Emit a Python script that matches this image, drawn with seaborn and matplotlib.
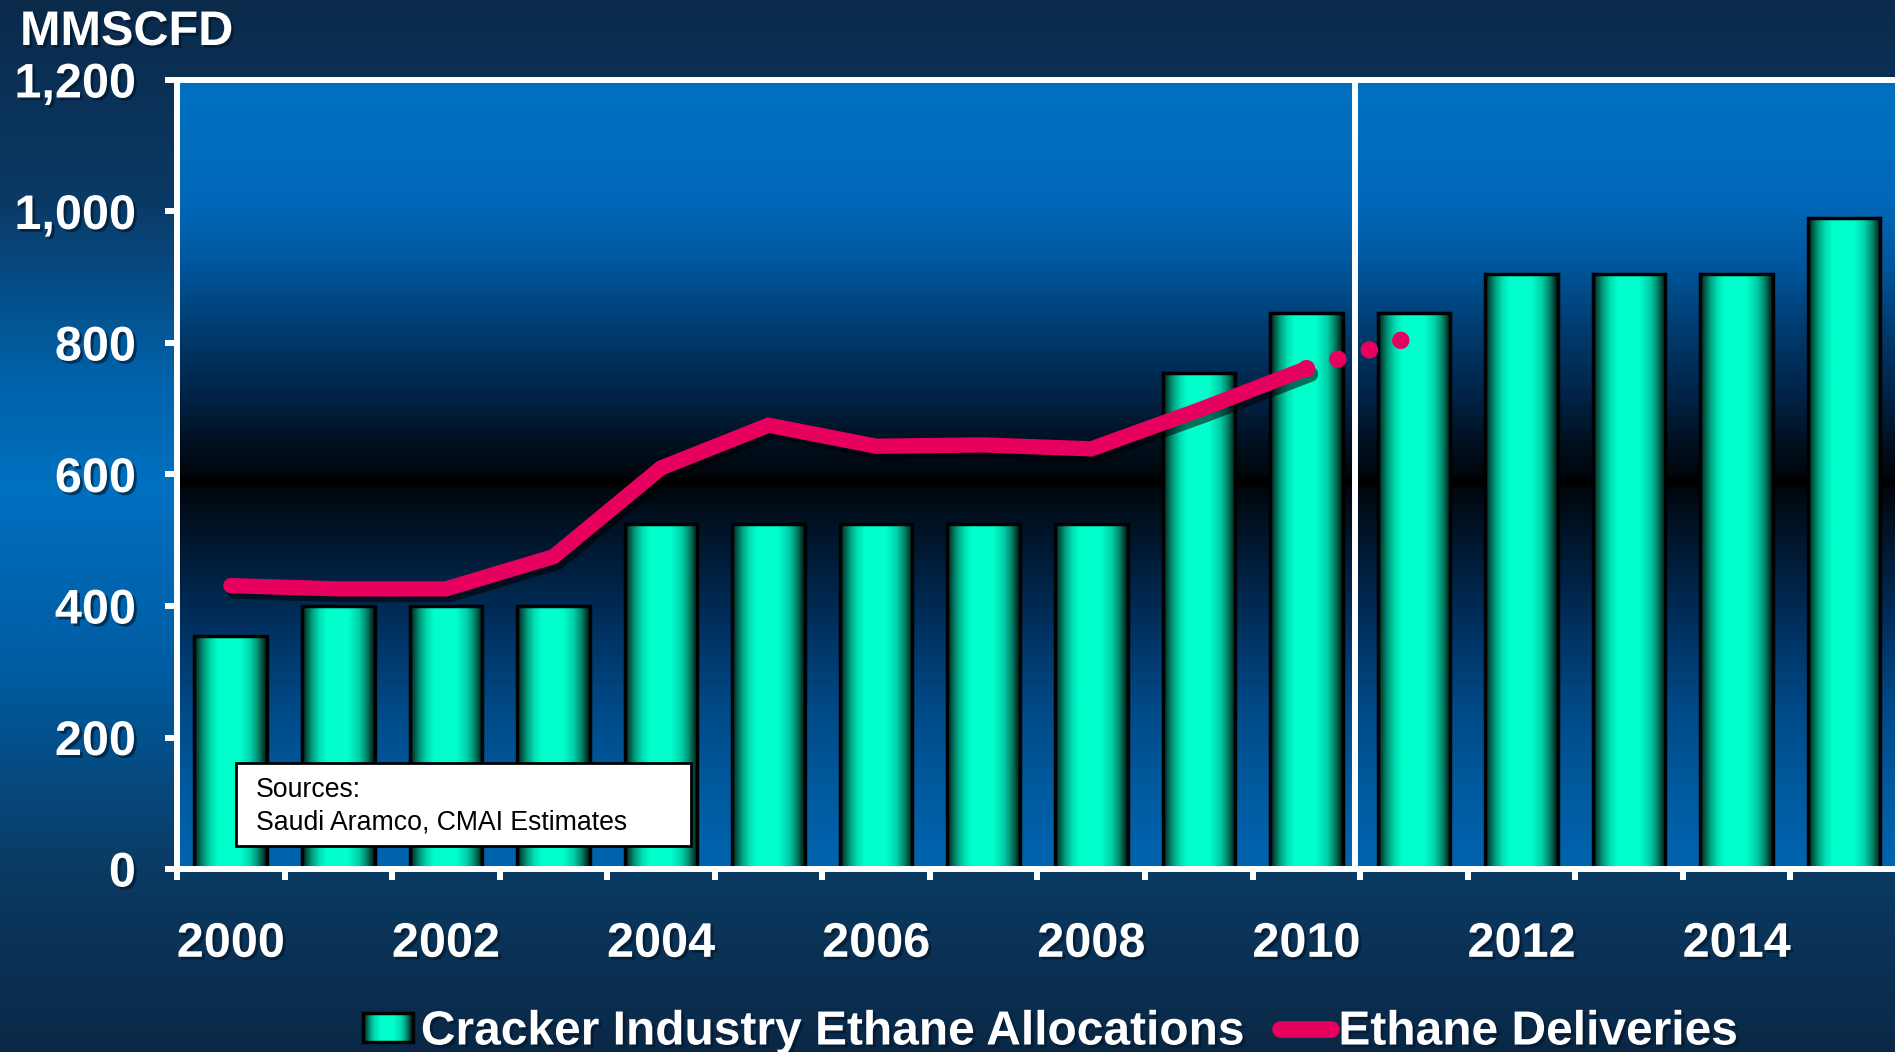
import numpy as np
import pandas as pd
import seaborn as sns
import matplotlib
matplotlib.use("Agg")
import matplotlib.pyplot as plt
import matplotlib.patheffects as pe
from matplotlib.colors import LinearSegmentedColormap
from matplotlib.patches import Rectangle
from matplotlib.lines import Line2D
from matplotlib.legend_handler import HandlerBase

# ---- data -------------------------------------------------------------
years = list(range(2000, 2016))
allocations = [355, 400, 400, 400, 525, 525, 525, 525, 525, 755, 845, 845, 905, 905, 905, 990]

delivery_years = list(range(2000, 2011))
deliveries = [431, 426, 426, 475, 610, 675, 643, 645, 639, 698, 761]

outlook_years = [2010, 2011]
outlook = [761, 810]

year_labels = ["2000", "2002", "2004", "2006", "2008", "2010", "2012", "2014"]
year_label_pos = [2000, 2002, 2004, 2006, 2008, 2010, 2012, 2014]
y_ticks = [0, 200, 400, 600, 800, 1000, 1200]
y_tick_labels = ["0", "200", "400", "600", "800", "1,000", "1,200"]

bar_label = "Cracker Industry Ethane Allocations"
line_label = "Ethane Deliveries"
unit_label = "MMSCFD"
source_note = "Sources:\nSaudi Aramco, CMAI Estimates"

# ---- style ------------------------------------------------------------
sns.set_theme(style="white")
plt.rcParams["font.family"] = ["Liberation Sans", "DejaVu Sans"]

PINK = "#e8005e"
W, H = 1895, 1052

cylinder = LinearSegmentedColormap.from_list("cylinder", [
    (0.00, "#001410"), (0.03, "#003a2e"), (0.14, "#00a080"), (0.24, "#00e0b4"),
    (0.34, "#00ffcc"), (0.63, "#00ffcc"), (0.78, "#00d0aa"), (0.88, "#008a6c"),
    (0.97, "#003028"), (1.00, "#001410")])

# figure backdrop, listed top to bottom
fig_bg = LinearSegmentedColormap.from_list("fig_bg", [
    (0.00, "#0b2a4a"), (0.19, "#0a3a66"), (0.36, "#0062aa"), (0.46, "#0070c0"),
    (0.55, "#0066b2"), (0.65, "#005a9e"), (0.83, "#0b3a62"), (1.00, "#0a2846")])

# plot area backdrop, stops given bottom-up as axes fraction
area_stops = [
    (0.000, "#0064b0"), (0.100, "#005a9e"), (0.200, "#004a88"), (0.300, "#003262"),
    (0.400, "#001a34"), (0.450, "#000f1e"), (0.484, "#00060c"), (0.486, "#000000"),
    (0.495, "#000000"), (0.497, "#00050a"), (0.540, "#001020"), (0.603, "#002448"),
    (0.687, "#003c70"), (0.772, "#0058a0"), (0.850, "#0068b8"), (0.900, "#006cbc"),
    (1.000, "#0070c0")]
area_bg = LinearSegmentedColormap.from_list(
    "area_bg", sorted([(1 - f, c) for f, c in area_stops]))

fig = plt.figure(figsize=(W / 100, H / 100), dpi=100)

bg = fig.add_axes([0, 0, 1, 1], zorder=-10)
bg.imshow(np.linspace(0, 1, 1200)[:, None], cmap=fig_bg, aspect="auto",
          extent=(0, 1, 0, 1), interpolation="bilinear")
bg.set_axis_off()

slot = 107.56
ax_left, ax_top, ax_bottom = 177, 80, 869
ax = fig.add_axes([ax_left / W, 1 - ax_bottom / H, 16 * slot / W, (ax_bottom - ax_top) / H])
ax.patch.set_visible(False)
ax.imshow(np.linspace(0, 1, 1600)[:, None], cmap=area_bg, aspect="auto",
          extent=(0, 1, 0, 1), transform=ax.transAxes, interpolation="bilinear", zorder=0)

# ---- bars -------------------------------------------------------------
df = pd.DataFrame({"year": years, "alloc": allocations})
sns.barplot(data=df, x="year", y="alloc", native_scale=True, width=0.675,
            color="#00e0b4", edgecolor="black", linewidth=2.5, ax=ax, zorder=3)

shade = np.linspace(0, 1, 256)[None, :]
for p in list(ax.patches):
    x0, w, h = p.get_x(), p.get_width(), p.get_height()
    im = ax.imshow(shade, cmap=cylinder, aspect="auto", extent=(x0, x0 + w, 0, h),
                   interpolation="bilinear", zorder=2.5)
    im.set_clip_path(p)
    p.set_facecolor("none")
    p.set_zorder(3)

# ---- delivery line ----------------------------------------------------
shadow = [pe.SimpleLineShadow(offset=(3, -4), shadow_color="black", alpha=0.55), pe.Normal()]
sns.lineplot(x=delivery_years, y=deliveries, color=PINK, lw=11, ax=ax,
             solid_capstyle="round", solid_joinstyle="miter", zorder=6,
             path_effects=shadow, legend=False)
# dotted outlook beyond the last reported year
ax.plot(outlook_years, outlook, color=PINK, lw=12.5, linestyle=(0, (0.01, 1.88)),
        dash_capstyle="round", zorder=6)

ax.axvline(2010.45, color="white", lw=4.3, zorder=5)

# ---- axes, ticks ------------------------------------------------------
ax.set_xlim(1999.5, 2015.5)
ax.set_ylim(0, 1200)
ax.set_xlabel("")
ax.set_ylabel("")

for side in ("left", "top", "bottom"):
    ax.spines[side].set_visible(True)
    ax.spines[side].set_color("white")
    ax.spines[side].set_linewidth(4.3)
    ax.spines[side].set_zorder(7)
ax.spines["right"].set_visible(False)

ax.set_yticks(y_ticks)
ax.set_yticklabels(y_tick_labels)
ax.set_xticks(np.arange(1999.5, 2016.0, 1.0))
ax.set_xticklabels([])
ax.set_xticks(year_label_pos, minor=True)
ax.set_xticklabels(year_labels, minor=True)

ax.tick_params(axis="x", which="major", direction="out", length=8, width=4.3,
               color="white", bottom=True, labelbottom=False)
ax.tick_params(axis="x", which="minor", length=0, pad=38, labelsize=35,
               labelcolor="white", bottom=True)
ax.tick_params(axis="y", direction="out", length=8.6, width=4.3, color="white",
               pad=21, labelsize=35, labelcolor="white", left=True)

text_shadow = [pe.withSimplePatchShadow(offset=(2, -2), shadow_rgbFace="#001428", alpha=0.6)]
for lbl in ax.get_yticklabels() + ax.get_xticklabels(minor=True):
    lbl.set_fontweight("bold")
    lbl.set_path_effects(text_shadow)

# ---- sources box ------------------------------------------------------
aw, ah = 16 * slot, ax_bottom - ax_top
bx0, bx1, by_top, by_bot = 236, 691, 763, 846
ax.add_patch(Rectangle(((bx0 - ax_left) / aw, (ax_bottom - by_bot) / ah),
                       (bx1 - bx0) / aw, (by_bot - by_top) / ah,
                       transform=ax.transAxes, facecolor="white", edgecolor="black",
                       lw=2, zorder=8))
ax.text((256 - ax_left) / aw, (ax_bottom - 806) / ah, source_note,
        transform=ax.transAxes, ha="left", va="center", fontsize=19.2,
        color="black", linespacing=1.32, zorder=9)

# ---- unit label -------------------------------------------------------
fig.text(20 / W, 1 - 45 / H, unit_label, ha="left", va="baseline", fontsize=35,
         fontweight="bold", color="white", path_effects=text_shadow)

# ---- legend -----------------------------------------------------------
class CylinderHandler(HandlerBase):
    def create_artists(self, legend, orig_handle, xdescent, ydescent,
                       width, height, fontsize, trans):
        n = 48
        arts = []
        for i in range(n):
            arts.append(Rectangle((-xdescent + i * width / n, -ydescent), width / n + 0.3,
                                  height, facecolor=cylinder(i / (n - 1)),
                                  edgecolor="none", transform=trans))
        arts.append(Rectangle((-xdescent, -ydescent), width, height, facecolor="none",
                              edgecolor="black", lw=2.5, transform=trans))
        return arts

bar_proxy = Rectangle((0, 0), 1, 1)
line_proxy = Line2D([], [], color=PINK, lw=12, solid_capstyle="round")
leg = fig.legend([bar_proxy, line_proxy], [bar_label, line_label],
                 handler_map={bar_proxy: CylinderHandler()},
                 loc="center", bbox_to_anchor=(0.5543, 0.019), ncol=2,
                 frameon=False, prop={"size": 34.5, "weight": "bold"},
                 labelcolor="white", handlelength=1.05, handleheight=0.55,
                 handletextpad=0.16, columnspacing=0.75, borderpad=0, borderaxespad=0)
for t in leg.get_texts():
    t.set_path_effects(text_shadow)

fig.savefig("out.png", dpi=100)
